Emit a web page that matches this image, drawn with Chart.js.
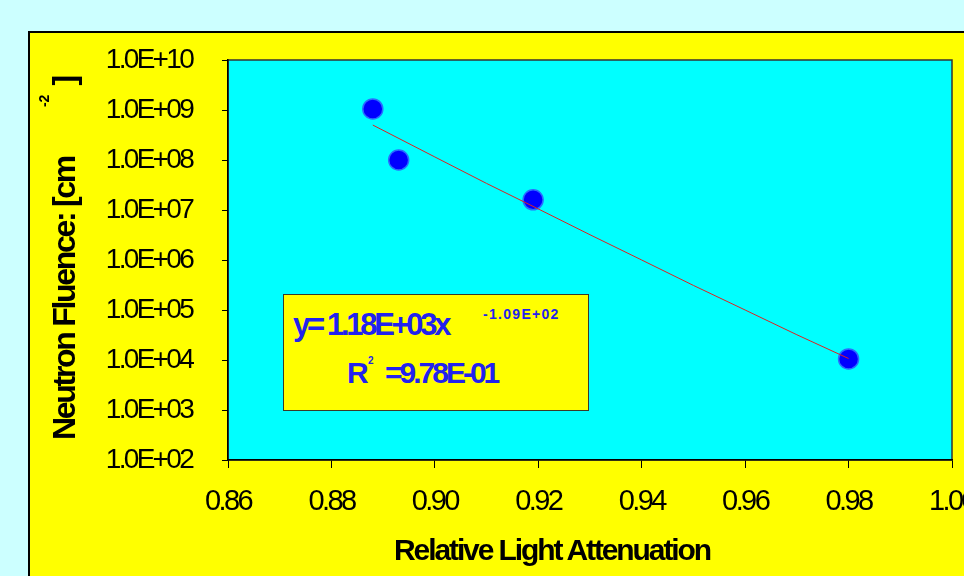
<!DOCTYPE html>
<html>
<head>
<meta charset="utf-8">
<script src="https://cdn.jsdelivr.net/npm/chart.js@4/dist/chart.umd.min.js"></script>
<style>
  html, body { margin: 0; padding: 0; }
  body { width: 964px; height: 576px; overflow: hidden; background: #ccffff; position: relative;
         font-family: "Liberation Sans", Arial, sans-serif; }
  #frame { position: absolute; left: 28px; top: 31px; width: 1000px; height: 600px;
           background: #ffff00; border: 2px solid #000; }
  #chart { position: absolute; left: 0; top: 0; }
  .txt { position: absolute; white-space: nowrap; font-weight: bold; line-height: 1; }
  #ytitle { position: absolute; left: 44px; top: 440px; height: 40px; line-height: 40px;
            transform-origin: left top; transform: rotate(-90deg); white-space: nowrap;
            font-weight: bold; font-size: 32px; letter-spacing: -2.3px; color: #000; }
  #ytitle .sup { font-size: 14px; letter-spacing: 0; position: relative; top: -26px; }
  #xtitle { left: 300px; width: 504px; text-align: center; top: 535px; font-size: 30px;
            letter-spacing: -2.1px; color: #000; }
  #eqbox { position: absolute; left: 283px; top: 294px; width: 304px; height: 115px;
           background: #ffff00; border: 1.5px solid #3a3a2a; }
  .eq { color: #2222ee; }
</style>
</head>
<body>
<div id="frame"></div>
<canvas id="chart" width="964" height="576"></canvas>

<div id="ytitle">Neutron Fluence: [cm<span style="display:inline-block;width:50px"></span><span class="sup">-2</span><span style="display:inline-block;width:9px"></span>]</div>
<div id="xtitle" class="txt">Relative Light Attenuation</div>

<div id="eqbox"></div>
<div class="txt eq" style="left:293px;top:309px;font-size:31px;letter-spacing:-3.3px">y= 1.18E+03x</div>
<div class="txt eq" style="left:483px;top:307px;font-size:14px;letter-spacing:1.3px">-1.09E+02</div>
<div class="txt eq" style="left:347px;top:358px;font-size:30px">R</div>
<div class="txt eq" style="left:368px;top:356px;font-size:10px">2</div>
<div class="txt eq" style="left:385px;top:358px;font-size:30px;letter-spacing:-3px">=9.78E-01</div>

<script>
/* data */
const attenuation = [0.888, 0.893, 0.919, 0.980];
const fluence = [1.05e9, 1.0e8, 1.6e7, 1.05e4];

// power-law trend line as drawn in the reference
const trendX = [0.888, 0.90, 0.91, 0.92, 0.93, 0.94, 0.95, 0.96, 0.97, 0.98];
const trendY = [5.0e8, 1.15e8, 3.4e7, 1.05e7, 3.2e6, 1.0e6, 3.1e5, 1.0e5, 3.2e4, 1.07e4];

const xTickValues = [0.86, 0.88, 0.90, 0.92, 0.94, 0.96, 0.98, 1.00];
const xTickLabels = ['0.86', '0.88', '0.90', '0.92', '0.94', '0.96', '0.98', '1.00'];
const yTickValues = [1e2, 1e3, 1e4, 1e5, 1e6, 1e7, 1e8, 1e9, 1e10];
const yTickLabels = ['1.0E+02', '1.0E+03', '1.0E+04', '1.0E+05', '1.0E+06',
                     '1.0E+07', '1.0E+08', '1.0E+09', '1.0E+10'];

const tickFamily = '"Liberation Sans", Arial, sans-serif';

// cyan plot area with thin dark frame, condensed tick text
const plotBackground = {
    id: 'plotBackground',
    beforeDraw(chart) {
        const { ctx, chartArea: a } = chart;
        ctx.save();
        ctx.fillStyle = '#00ffff';
        ctx.fillRect(a.left, a.top, a.width, a.height);
        ctx.strokeStyle = '#333';
        ctx.lineWidth = 1.5;
        ctx.strokeRect(a.left, a.top, a.width, a.height);
        ctx.restore();
        ctx.letterSpacing = '-2.6px';   // x labels
    },
    afterDatasetsDraw(chart) {
        chart.ctx.letterSpacing = '-2.7px';   // y labels (ticks.z = 1)
    },
    afterDraw(chart) {
        chart.ctx.letterSpacing = '0px';
    }
};

new Chart(document.getElementById('chart'), {
    type: 'scatter',
    data: {
        datasets: [
            {
                label: 'trend',
                data: trendX.map((x, i) => ({ x: x, y: trendY[i] })),
                showLine: true,
                borderColor: '#dd2222',
                borderWidth: 1,
                pointRadius: 0
            },
            {
                label: 'fluence',
                data: attenuation.map((x, i) => ({ x: x, y: fluence[i] })),
                pointRadius: 10,
                pointBackgroundColor: '#0000ff',
                pointBorderColor: '#2a6cff',
                pointBorderWidth: 1.5
            }
        ]
    },
    options: {
        responsive: false,
        animation: false,
        layout: { padding: { top: 60, right: 12, left: 0, bottom: 0 } },
        plugins: { legend: { display: false }, tooltip: { enabled: false } },
        scales: {
            x: {
                type: 'linear',
                min: 0.86,
                max: 1.00,
                afterBuildTicks: s => { s.ticks = xTickValues.map(v => ({ value: v })); },
                afterFit: s => { s.height = 116; s.paddingLeft = 0; s.paddingRight = 0; },
                grid: { drawOnChartArea: false, drawTicks: true, tickLength: 8, color: '#000' },
                border: { display: true, color: '#000', width: 1.5 },
                ticks: {
                    padding: 17,
                    color: '#000',
                    font: { family: tickFamily, size: 29 },
                    callback: (v, i) => xTickLabels[i]
                }
            },
            y: {
                type: 'logarithmic',
                min: 1e2,
                max: 1e10,
                afterBuildTicks: s => { s.ticks = yTickValues.map(v => ({ value: v })); },
                afterFit: s => { s.width = 228; s.paddingTop = 0; s.paddingBottom = 0; },
                grid: { drawOnChartArea: false, drawTicks: true, tickLength: 6, color: '#000' },
                border: { display: true, color: '#000', width: 1.5 },
                ticks: {
                    z: 1,
                    padding: 30,
                    color: '#000',
                    font: { family: tickFamily, size: 28 },
                    callback: (v, i) => yTickLabels[i]
                }
            }
        }
    },
    plugins: [plotBackground]
});
</script>
</body>
</html>
